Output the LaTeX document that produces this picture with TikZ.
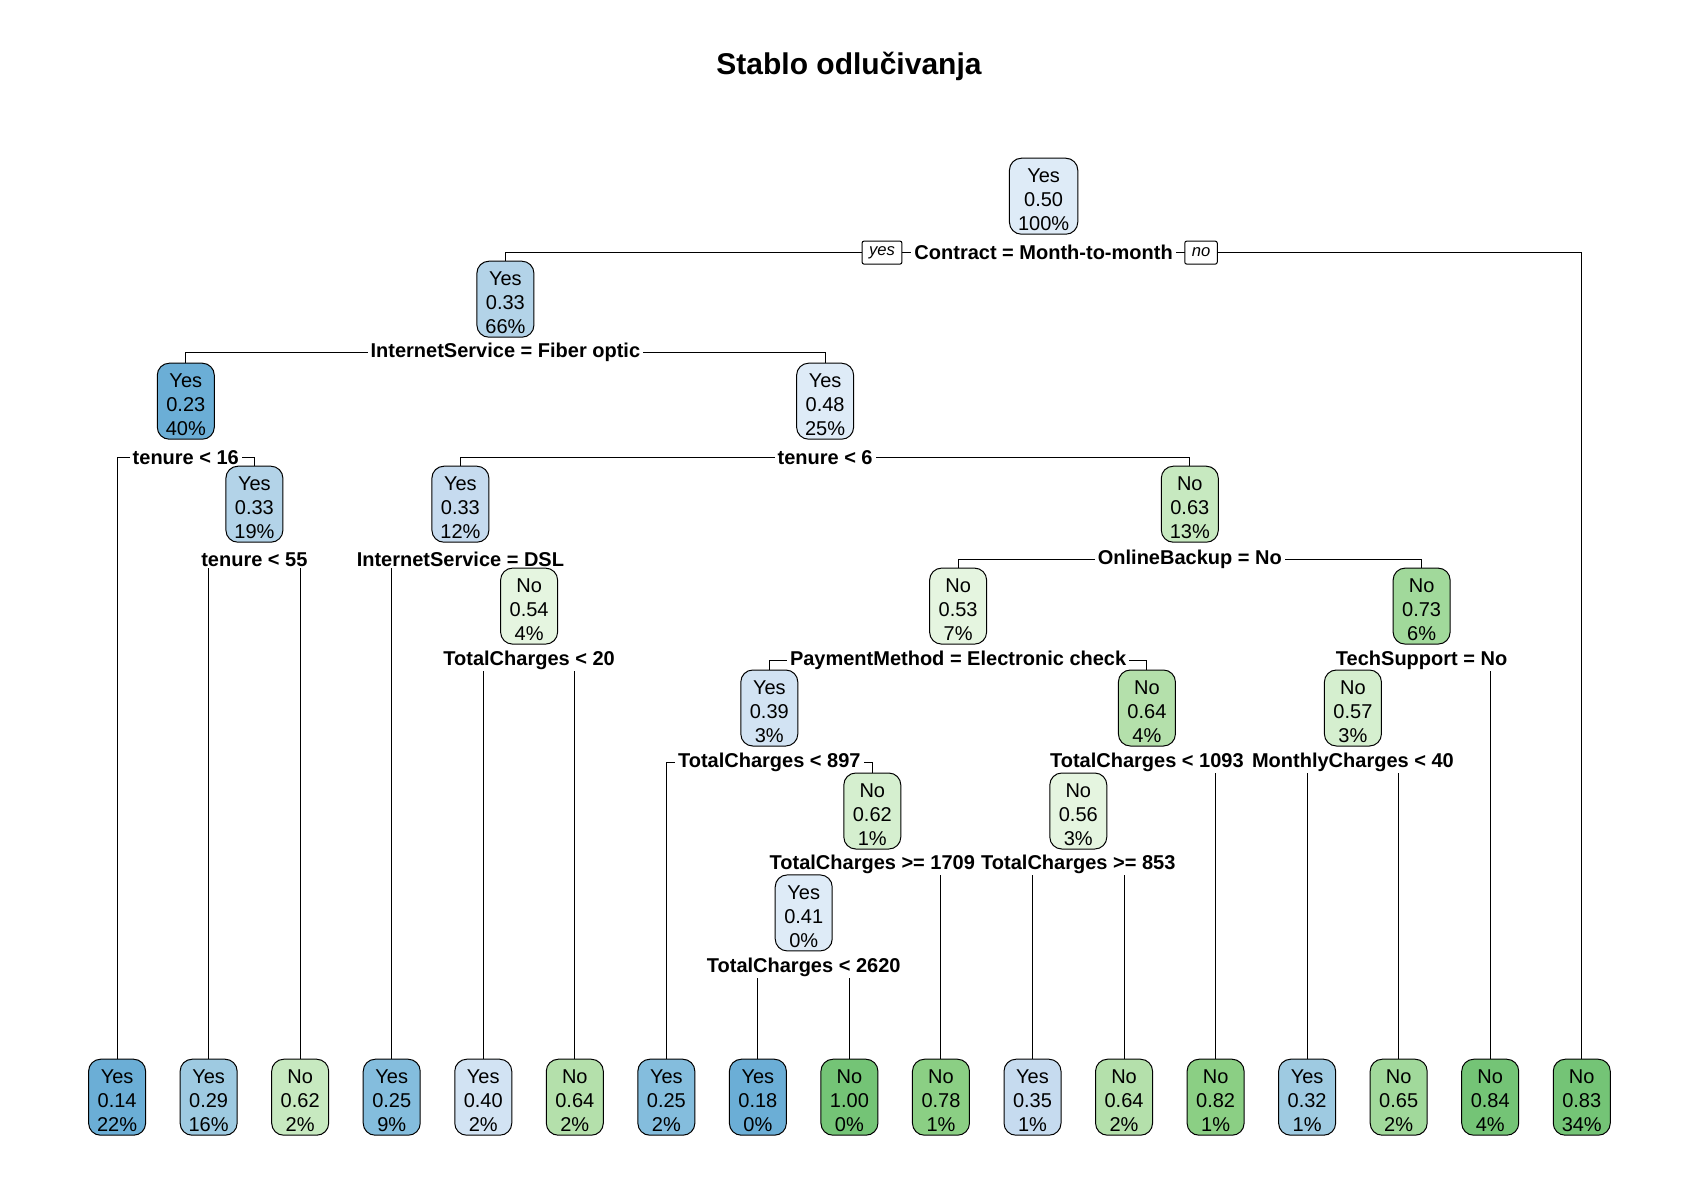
\documentclass[tikz,border=0pt]{standalone}
\usepackage{fontspec}
\setmainfont{Liberation Sans}
\usepackage{tikz}
\usetikzlibrary{backgrounds}
\definecolor{bu1}{HTML}{DEEBF7}
\definecolor{bu2}{HTML}{D2E3F3}
\definecolor{bu3}{HTML}{C6DBEF}
\definecolor{bu4}{HTML}{B3D3E8}
\definecolor{bu5}{HTML}{9ECAE1}
\definecolor{bu6}{HTML}{84BDDD}
\definecolor{bu7}{HTML}{6BAED6}
\definecolor{gn1}{HTML}{E5F5E0}
\definecolor{gn2}{HTML}{D5EFCF}
\definecolor{gn3}{HTML}{C7E9C0}
\definecolor{gn4}{HTML}{B4E0AB}
\definecolor{gn5}{HTML}{A1D99B}
\definecolor{gn6}{HTML}{8BCF84}
\definecolor{gn7}{HTML}{74C476}
\newcommand{\nodetxt}[3]{\rule{0pt}{10.4pt}#1\\#2\\#3\%}

\begin{document}
\begin{tikzpicture}[x=0.5pt, y=-0.5pt,
  box/.style={draw, rounded corners=6pt, line width=0.5pt, align=center,
    minimum width=28.5pt, minimum height=38pt, inner xsep=3.5pt, inner ysep=1pt,
    font=\fontsize{10}{12}\selectfont},
  split/.style={fill=white, inner xsep=1.5pt, inner ysep=0.8pt,
    font=\fontsize{10}{11}\selectfont\bfseries},
  side/.style={draw, fill=white, rounded corners=1pt, line width=0.5pt,
    minimum height=11.5pt, inner xsep=3.5pt, inner ysep=0pt,
    font=\fontsize{8.3}{9}\selectfont\itshape},
  branch/.style={line width=0.5pt}]
  \useasboundingbox (0,0) rectangle (1700,1200);

  \node[font=\fontsize{15}{18}\selectfont\bfseries] (title) at (849,66) {Stablo odlučivanja};

  % split labels
  \node[split] (s1) at (1043.6,252.6) {Contract = Month-to-month};
  \node[split] (s2) at (505.4,352.4) {InternetService = Fiber optic};
  \node[split] (s3) at (185.8,457.5) {tenure < 16};
  \node[split] (s4) at (825.1,457.5) {tenure < 6};
  \node[split] (s5) at (254.4,559.4) {tenure < 55};
  \node[split] (s6) at (460.4,559.4) {InternetService = DSL};
  \node[split] (s7) at (1189.8,559.4) {OnlineBackup = No};
  \node[split] (s8) at (529.1,660.3) {TotalCharges < 20};
  \node[split] (s9) at (958.1,660.3) {PaymentMethod = Electronic check};
  \node[split] (s10) at (1421.6,660.3) {TechSupport = No};
  \node[split] (s11) at (769.3,762.2) {TotalCharges < 897};
  \node[split] (s12) at (1146.9,762.2) {TotalCharges < 1093};
  \node[split] (s13) at (1352.9,762.2) {MonthlyCharges < 40};
  \node[split] (s14) at (872.3,864.1) {TotalCharges >= 1709};
  \node[split] (s15) at (1078.3,864.1) {TotalCharges >= 853};
  \node[split] (s16) at (803.7,967.1) {TotalCharges < 2620};

  % inner nodes
  \node[box, fill=bu1, inner xsep=4.3pt] (n1) at (1043.6,196.2) {\nodetxt{Yes}{0.50}{100}};
  \node[box, fill=bu4] (n2) at (505.4,299.2) {\nodetxt{Yes}{0.33}{66}};
  \node[box, fill=bu7] (n3) at (185.8,401.2) {\nodetxt{Yes}{0.23}{40}};
  \node[box, fill=bu1] (n4) at (825.1,401.2) {\nodetxt{Yes}{0.48}{25}};
  \node[box, fill=bu4] (n5) at (254.4,504.2) {\nodetxt{Yes}{0.33}{19}};
  \node[box, fill=bu3] (n6) at (460.4,504.2) {\nodetxt{Yes}{0.33}{12}};
  \node[box, fill=gn3] (n7) at (1189.8,504.2) {\nodetxt{No}{0.63}{13}};
  \node[box, fill=gn1] (n8) at (529.1,606.1) {\nodetxt{No}{0.54}{4}};
  \node[box, fill=gn1] (n9) at (958.1,606.1) {\nodetxt{No}{0.53}{7}};
  \node[box, fill=gn5] (n10) at (1421.6,606.1) {\nodetxt{No}{0.73}{6}};
  \node[box, fill=bu2] (n11) at (769.3,708.0) {\nodetxt{Yes}{0.39}{3}};
  \node[box, fill=gn4] (n12) at (1146.9,708.0) {\nodetxt{No}{0.64}{4}};
  \node[box, fill=gn2] (n13) at (1352.9,708.0) {\nodetxt{No}{0.57}{3}};
  \node[box, fill=gn2] (n14) at (872.3,811.0) {\nodetxt{No}{0.62}{1}};
  \node[box, fill=gn1] (n15) at (1078.3,811.0) {\nodetxt{No}{0.56}{3}};
  \node[box, fill=bu1] (n16) at (803.7,912.9) {\nodetxt{Yes}{0.41}{0}};

  % leaves
  \foreach \i/\cls/\prob/\pct/\col in {0/Yes/0.14/22/bu7, 1/Yes/0.29/16/bu5,
      2/No/0.62/2/gn3, 3/Yes/0.25/9/bu6, 4/Yes/0.40/2/bu2, 5/No/0.64/2/gn4,
      6/Yes/0.25/2/bu6, 7/Yes/0.18/0/bu7, 8/No/1.00/0/gn7, 9/No/0.78/1/gn6,
      10/Yes/0.35/1/bu3, 11/No/0.64/2/gn4, 12/No/0.82/1/gn6, 13/Yes/0.32/1/bu5,
      14/No/0.65/2/gn5, 15/No/0.84/4/gn7, 16/No/0.83/34/gn7}
    \node[box, fill=\col] (l\i) at ({117.1+91.54*\i},1097.2) {\nodetxt{\cls}{\prob}{\pct}};

  \node[side] (yes) at (882,252.6) {yes};
  \node[side] (no) at (1201,252.6) {no};

  \begin{scope}[on background layer]
    \draw[branch] (n2.north) |- (s1.center) -| (l16.north);
    \draw[branch] (n3.north) |- (s2.center) -| (n4.north);
    \draw[branch] (l0.north) |- (s3.center) -| (n5.north);
    \draw[branch] (n6.north) |- (s4.center) -| (n7.north);
    \draw[branch] (l1.north) |- (s5.center) -| (l2.north);
    \draw[branch] (l3.north) |- (s6.center) -| (n8.north);
    \draw[branch] (n9.north) |- (s7.center) -| (n10.north);
    \draw[branch] (l4.north) |- (s8.center) -| (l5.north);
    \draw[branch] (n11.north) |- (s9.center) -| (n12.north);
    \draw[branch] (n13.north) |- (s10.center) -| (l15.north);
    \draw[branch] (l6.north) |- (s11.center) -| (n14.north);
    \draw[branch] (n15.north) |- (s12.center) -| (l12.north);
    \draw[branch] (l13.north) |- (s13.center) -| (l14.north);
    \draw[branch] (n16.north) |- (s14.center) -| (l9.north);
    \draw[branch] (l10.north) |- (s15.center) -| (l11.north);
    \draw[branch] (l7.north) |- (s16.center) -| (l8.north);
  \end{scope}
\end{tikzpicture}
\end{document}
